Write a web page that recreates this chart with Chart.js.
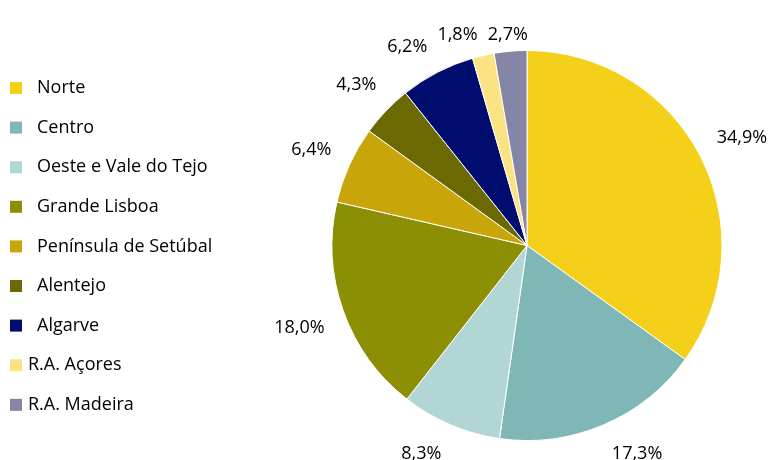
<!DOCTYPE html>
<html>
<head>
<meta charset="utf-8">
<script src="https://cdn.jsdelivr.net/npm/chart.js@4/dist/chart.umd.min.js"></script>
<style>
  html, body { margin: 0; padding: 0; background: #fff; }
  #wrap { width: 771px; height: 460px; position: relative; }
</style>
</head>
<body>
<div id="wrap"><canvas id="chart" width="771" height="460"></canvas></div>
<script>
const regions = ['Norte', 'Centro', 'Oeste e Vale do Tejo', 'Grande Lisboa', 'Península de Setúbal',
  'Alentejo', 'Algarve', 'R.A. Açores', 'R.A. Madeira'];
const shares = [34.9, 17.3, 8.3, 18.0, 6.4, 4.3, 6.2, 1.8, 2.7];
const colors = ['#F5D01A', '#7FB6B6', '#B2D5D5', '#8C8E04', '#C8A508', '#6B6A02', '#000D6E', '#FBE384', '#8685A5'];

const FONT = '18px "Open Sans", sans-serif';

// legend drawn on the left, Excel style
const legendPlugin = {
  id: 'sideLegend',
  afterDraw(chart) {
    const { ctx } = chart;
    ctx.save();
    ctx.font = FONT;
    ctx.textBaseline = 'middle';
    chart.data.labels.forEach((lbl, i) => {
      const y = 88 + i * 39.6;
      ctx.fillStyle = colors[i];
      ctx.fillRect(10, y - 6, 12, 12);
      ctx.fillStyle = '#000';
      ctx.fillText(lbl, i < 7 ? 37 : 28, y);
    });
    ctx.restore();
  },
};

// percentage labels outside the slices ("best fit"-ish placement)
const pctPlugin = {
  id: 'pctLabels',
  afterDatasetsDraw(chart) {
    const { ctx } = chart;
    const meta = chart.getDatasetMeta(0);
    const top = 33;
    const bottom = 452;
    const hh = 11;
    ctx.save();
    ctx.font = FONT;
    ctx.fillStyle = '#000';
    ctx.textAlign = 'center';
    ctx.textBaseline = 'middle';

    const place = (cx, cy, r, a, hw) => {
      const c = Math.cos(a);
      const s = Math.sin(a);
      const d = r + 19 + Math.abs(c) * hw + Math.abs(s) * hh;
      let x = cx + c * d;
      let y = cy + s * d;
      if (y > bottom) {
        const dy = bottom - cy;
        y = bottom;
        x = cx + Math.sign(c) * Math.sqrt(Math.max(0, d * d - dy * dy));
      }
      if (y < top) y = top;
      return { x, y };
    };

    const placed = [];
    const overlaps = (p, hw) => placed.some((q) => Math.abs(p.x - q.x) < hw + q.hw + 10 && Math.abs(p.y - q.y) < hh * 2);

    for (let i = meta.data.length - 1; i >= 0; i--) {
      const arc = meta.data[i];
      const { x, y, startAngle, endAngle, outerRadius } = arc.getProps(['x', 'y', 'startAngle', 'endAngle', 'outerRadius'], true);
      const txt = shares[i].toFixed(1).replace('.', ',') + '%';
      const hw = ctx.measureText(txt).width / 2;
      let a = (startAngle + endAngle) / 2;
      let p = place(x, y, outerRadius, a, hw);
      let n = 0;
      while (overlaps(p, hw) && n < 100) {
        a -= 0.01;
        p = place(x, y, outerRadius, a, hw);
        n++;
      }
      placed.push({ x: p.x, y: p.y, hw });
      ctx.fillText(txt, p.x, p.y + 2);
    }
    ctx.restore();
  },
};

new Chart(document.getElementById('chart'), {
  type: 'pie',
  data: {
    labels: regions,
    datasets: [{
      data: shares,
      backgroundColor: colors,
      borderColor: '#fff',
      borderWidth: 1,
    }],
  },
  options: {
    responsive: false,
    animation: false,
    layout: { padding: { left: 331, right: 48, top: 50, bottom: 19 } },
    plugins: {
      legend: { display: false },
      tooltip: { enabled: false },
    },
  },
  plugins: [legendPlugin, pctPlugin],
});
</script>
</body>
</html>
